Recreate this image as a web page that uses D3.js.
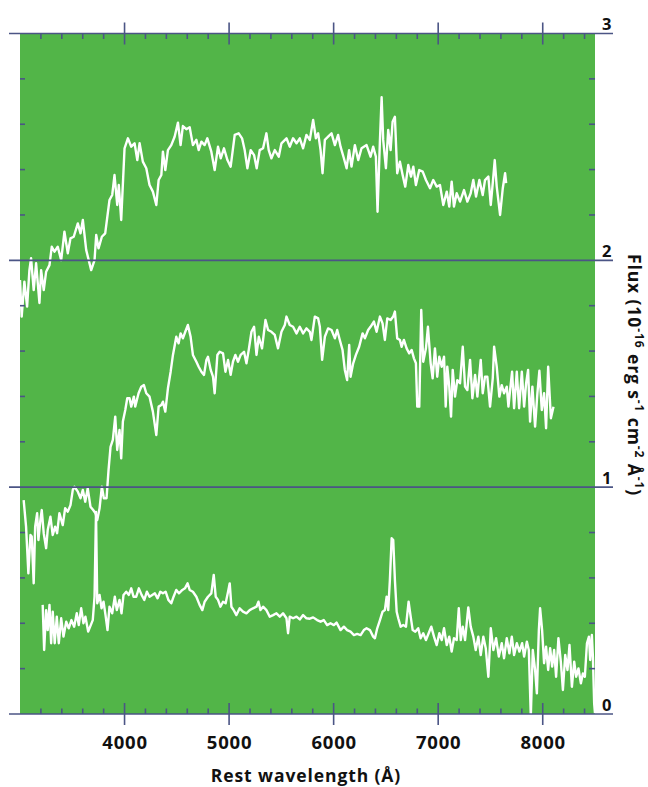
<!DOCTYPE html>
<meta charset="utf-8">
<style>
  body { margin: 0; background: #fff; }
  svg { font-family: 'Open Sans', sans-serif; }
  .lbl { font-weight: 700; fill: #111; }
</style>
<script src="https://d3js.org/d3.v7.min.js"></script>
<body>
<svg id="chart" width="648" height="787"></svg>
<script>
// wavelength tick labels (Angstrom) and flux levels
var waveTicks = [4000, 5000, 6000, 7000, 8000];
var fluxLevels = [0, 1, 2, 3];

// spectra: [rest wavelength (A), flux (1e-16 erg/s/cm2/A)]
var topSpec = [
  [3000,1.913],[3016,1.752],[3042,1.906],[3068,1.796],[3090,1.957],[3106,2.009],[3131,1.869],[3154,1.987],
  [3186,1.812],[3202,1.957],[3227,1.869],[3250,1.950],[3282,1.979],[3304,2.060],[3330,2.038],[3361,2.060],
  [3394,2.001],[3425,2.126],[3457,2.031],[3483,2.097],[3514,2.104],[3553,2.163],[3579,2.119],[3601,2.178],
  [3633,2.046],[3681,1.957],[3713,2.001],[3729,2.112],[3751,2.053],[3783,2.104],[3815,2.119],[3856,2.266],
  [3882,2.288],[3904,2.376],[3930,2.244],[3945,2.332],[3968,2.178],[4000,2.494],[4032,2.538],[4064,2.501],
  [4096,2.516],[4122,2.442],[4144,2.516],[4175,2.435],[4208,2.406],[4239,2.332],[4271,2.303],[4304,2.244],
  [4326,2.354],[4352,2.376],[4367,2.479],[4390,2.398],[4415,2.486],[4447,2.508],[4479,2.545],[4511,2.607],
  [4536,2.508],[4558,2.592],[4591,2.578],[4623,2.587],[4654,2.508],[4687,2.531],[4709,2.486],[4735,2.523],
  [4766,2.508],[4792,2.538],[4830,2.479],[4862,2.398],[4894,2.501],[4920,2.450],[4951,2.494],[4984,2.442],
  [5015,2.413],[5054,2.553],[5092,2.560],[5124,2.538],[5149,2.486],[5175,2.406],[5207,2.486],[5239,2.464],
  [5264,2.406],[5293,2.486],[5325,2.494],[5357,2.560],[5379,2.486],[5405,2.450],[5437,2.486],[5475,2.457],
  [5501,2.516],[5549,2.538],[5580,2.501],[5612,2.538],[5645,2.516],[5676,2.538],[5708,2.494],[5740,2.553],
  [5772,2.531],[5804,2.619],[5830,2.538],[5852,2.560],[5875,2.486],[5894,2.384],[5916,2.531],[5947,2.545],
  [5980,2.560],[6012,2.508],[6043,2.553],[6066,2.501],[6098,2.450],[6124,2.406],[6148,2.486],[6171,2.413],
  [6203,2.508],[6235,2.442],[6267,2.494],[6315,2.508],[6353,2.457],[6378,2.501],[6404,2.457],[6420,2.214],
  [6443,2.531],[6459,2.719],[6474,2.531],[6500,2.406],[6522,2.575],[6545,2.486],[6564,2.611],[6586,2.633],
  [6608,2.384],[6634,2.435],[6660,2.376],[6685,2.325],[6714,2.420],[6740,2.369],[6762,2.413],[6787,2.332],
  [6819,2.398],[6852,2.391],[6883,2.354],[6922,2.318],[6953,2.354],[6986,2.325],[7017,2.332],[7049,2.244],
  [7082,2.303],[7106,2.237],[7129,2.347],[7151,2.237],[7177,2.296],[7209,2.259],[7247,2.310],[7279,2.259],
  [7311,2.296],[7336,2.354],[7362,2.281],[7394,2.354],[7426,2.288],[7448,2.354],[7480,2.369],[7503,2.244],
  [7522,2.340],[7541,2.442],[7560,2.325],[7592,2.200],[7618,2.318],[7640,2.384],[7650,2.340]
];

var midSpec = [
  [3035,0.943],[3058,0.826],[3080,0.620],[3100,0.789],[3112,0.782],[3131,0.576],[3145,0.826],[3164,0.885],
  [3176,0.767],[3195,0.855],[3208,0.899],[3227,0.797],[3250,0.731],[3265,0.811],[3291,0.870],[3313,0.789],
  [3336,0.826],[3355,0.797],[3377,0.885],[3409,0.833],[3432,0.907],[3457,0.892],[3483,0.921],[3505,0.988],
  [3521,1.002],[3553,0.980],[3579,0.951],[3601,0.988],[3624,0.936],[3648,0.995],[3674,0.914],[3700,0.899],
  [3722,0.885],[3739,0.855],[3761,0.907],[3783,1.002],[3802,0.951],[3828,0.951],[3847,1.076],[3866,1.178],
  [3888,1.208],[3911,1.311],[3930,1.164],[3952,1.252],[3968,1.127],[3984,1.289],[4007,1.340],[4026,1.392],
  [4048,1.392],[4064,1.355],[4089,1.399],[4102,1.355],[4134,1.414],[4160,1.443],[4185,1.450],[4208,1.414],
  [4239,1.399],[4271,1.333],[4304,1.230],[4326,1.355],[4352,1.362],[4367,1.377],[4390,1.333],[4415,1.436],
  [4441,1.509],[4463,1.583],[4495,1.663],[4517,1.634],[4536,1.678],[4558,1.656],[4581,1.685],[4606,1.715],
  [4632,1.663],[4654,1.583],[4687,1.553],[4709,1.531],[4735,1.509],[4760,1.495],[4783,1.561],[4798,1.575],
  [4824,1.517],[4846,1.487],[4862,1.414],[4888,1.583],[4910,1.597],[4942,1.590],[4965,1.509],[4990,1.561],
  [5015,1.495],[5037,1.553],[5060,1.583],[5085,1.553],[5111,1.583],[5143,1.597],[5166,1.546],[5188,1.605],
  [5214,1.685],[5239,1.707],[5262,1.583],[5284,1.663],[5315,1.612],[5348,1.737],[5373,1.693],[5405,1.685],
  [5437,1.671],[5468,1.612],[5501,1.685],[5533,1.715],[5549,1.752],[5580,1.715],[5612,1.707],[5645,1.678],
  [5676,1.707],[5708,1.678],[5740,1.700],[5772,1.685],[5788,1.649],[5820,1.752],[5852,1.744],[5868,1.707],
  [5890,1.561],[5916,1.663],[5947,1.700],[5980,1.693],[6012,1.656],[6034,1.693],[6059,1.649],[6085,1.605],
  [6107,1.517],[6129,1.472],[6149,1.627],[6162,1.487],[6187,1.546],[6213,1.583],[6244,1.619],[6277,1.678],
  [6299,1.656],[6330,1.693],[6353,1.707],[6385,1.730],[6411,1.685],[6443,1.752],[6468,1.722],[6490,1.649],
  [6513,1.744],[6545,1.737],[6570,1.752],[6586,1.774],[6608,1.656],[6634,1.649],[6650,1.619],[6672,1.649],
  [6698,1.612],[6723,1.590],[6746,1.605],[6768,1.568],[6787,1.546],[6800,1.355],[6819,1.355],[6838,1.781],
  [6857,1.553],[6883,1.612],[6902,1.707],[6928,1.546],[6947,1.480],[6969,1.612],[6991,1.487],[7011,1.575],
  [7034,1.531],[7056,1.575],[7072,1.355],[7087,1.531],[7106,1.443],[7123,1.311],[7139,1.517],[7161,1.399],
  [7183,1.472],[7209,1.458],[7235,1.619],[7257,1.443],[7279,1.428],[7305,1.561],[7327,1.392],[7353,1.495],
  [7375,1.399],[7407,1.561],[7426,1.414],[7448,1.487],[7470,1.487],[7496,1.355],[7522,1.480],[7535,1.619],
  [7560,1.531],[7585,1.399],[7608,1.450],[7630,1.414],[7656,1.443],[7672,1.355],[7688,1.428],[7707,1.509],
  [7726,1.348],[7752,1.509],[7774,1.348],[7800,1.509],[7822,1.355],[7841,1.458],[7860,1.517],[7879,1.289],
  [7901,1.443],[7927,1.267],[7949,1.414],[7968,1.513],[7991,1.340],[8013,1.414],[8032,1.260],[8052,1.531],
  [8078,1.304],[8103,1.355]
];

var lowSpec = [
  [3217,0.481],[3231,0.282],[3250,0.458],[3265,0.370],[3282,0.481],[3298,0.312],[3313,0.451],[3332,0.312],
  [3352,0.429],[3371,0.312],[3394,0.422],[3416,0.341],[3442,0.407],[3466,0.378],[3492,0.414],[3518,0.385],
  [3543,0.444],[3562,0.392],[3585,0.466],[3607,0.400],[3626,0.429],[3652,0.363],[3677,0.392],[3696,0.414],
  [3713,0.517],[3727,0.891],[3739,0.488],[3761,0.525],[3780,0.466],[3799,0.495],[3818,0.436],[3837,0.370],
  [3856,0.473],[3882,0.444],[3907,0.517],[3926,0.458],[3952,0.503],[3971,0.444],[3990,0.525],[4016,0.539],
  [4041,0.525],[4064,0.554],[4086,0.517],[4112,0.517],[4137,0.554],[4163,0.525],[4189,0.503],[4214,0.539],
  [4239,0.517],[4265,0.525],[4290,0.532],[4316,0.510],[4342,0.539],[4367,0.532],[4393,0.539],[4419,0.503],
  [4447,0.488],[4469,0.517],[4495,0.547],[4520,0.532],[4553,0.547],[4578,0.554],[4603,0.576],[4623,0.547],
  [4654,0.539],[4687,0.517],[4718,0.481],[4744,0.458],[4766,0.495],[4798,0.517],[4830,0.532],[4853,0.613],
  [4872,0.517],[4894,0.503],[4917,0.473],[4942,0.495],[4967,0.488],[4990,0.539],[5006,0.576],[5022,0.473],
  [5044,0.458],[5070,0.436],[5101,0.466],[5133,0.451],[5166,0.444],[5197,0.458],[5229,0.466],[5262,0.473],
  [5281,0.495],[5300,0.458],[5325,0.473],[5357,0.458],[5389,0.429],[5421,0.436],[5453,0.444],[5485,0.429],
  [5516,0.444],[5549,0.422],[5564,0.356],[5580,0.429],[5612,0.422],[5645,0.429],[5676,0.417],[5708,0.436],
  [5740,0.422],[5772,0.420],[5804,0.426],[5842,0.414],[5875,0.407],[5906,0.414],[5938,0.392],[5970,0.400],
  [6002,0.392],[6028,0.403],[6066,0.370],[6098,0.385],[6129,0.370],[6162,0.363],[6194,0.348],[6225,0.353],
  [6258,0.348],[6289,0.370],[6315,0.378],[6347,0.370],[6378,0.341],[6395,0.334],[6417,0.378],[6443,0.414],
  [6468,0.451],[6490,0.458],[6507,0.517],[6522,0.458],[6538,0.591],[6555,0.775],[6570,0.767],[6586,0.591],
  [6603,0.451],[6618,0.422],[6641,0.385],[6666,0.392],[6692,0.385],[6717,0.495],[6737,0.429],[6756,0.370],
  [6781,0.363],[6809,0.378],[6832,0.334],[6857,0.356],[6883,0.326],[6909,0.356],[6934,0.385],[6960,0.341],
  [6986,0.304],[7011,0.356],[7034,0.326],[7056,0.378],[7082,0.304],[7106,0.341],[7129,0.275],[7151,0.334],
  [7177,0.326],[7197,0.466],[7216,0.326],[7235,0.385],[7257,0.326],[7288,0.470],[7311,0.385],[7336,0.341],
  [7359,0.282],[7384,0.341],[7407,0.260],[7432,0.341],[7455,0.290],[7480,0.164],[7503,0.378],[7528,0.282],
  [7554,0.334],[7580,0.253],[7608,0.312],[7630,0.246],[7656,0.334],[7681,0.268],[7704,0.341],[7726,0.260],
  [7752,0.312],[7777,0.275],[7803,0.312],[7822,0.253],[7848,0.319],[7867,0.282],[7886,-0.01],[7905,0.282],
  [7927,0.194],[7944,0.091],[7963,0.370],[7975,0.466],[7994,0.370],[8013,0.224],[8032,0.297],[8052,0.194],
  [8071,0.290],[8090,0.209],[8109,0.282],[8128,0.164],[8150,0.334],[8173,0.231],[8193,0.106],[8215,0.260],
  [8237,0.194],[8256,0.304],[8279,0.120],[8301,0.231],[8320,0.164],[8342,0.201],[8365,0.135],[8384,0.179],
  [8403,0.164],[8423,0.312],[8442,0.341],[8454,0.238],[8470,0.348],[8480,0.253],[8492,0.047],[8500,0.003]
];

var svg = d3.select('#chart');
var axisColor = '#4b5585';

var x = d3.scaleLinear().domain([3000, 8500]).range([20, 595]);
var y = d3.scaleLinear().domain([0, 3]).range([714, 33.5]);

// green plot area
svg.append('rect')
  .attr('x', x(3000)).attr('y', y(3))
  .attr('width', x(8500) - x(3000)).attr('height', y(0) - y(3))
  .attr('fill', '#52b548');

svg.append('clipPath').attr('id', 'clip')
  .append('rect')
  .attr('x', x(3000)).attr('y', y(3))
  .attr('width', x(8500) - x(3000)).attr('height', y(0) - y(3) + 1);

var line = d3.line()
  .x(function(d) { return x(d[0]); })
  .y(function(d) { return y(d[1]); });

svg.append('g').attr('clip-path', 'url(#clip)')
  .selectAll('path')
  .data([topSpec, midSpec, lowSpec])
  .enter().append('path')
    .attr('d', line)
    .attr('fill', 'none')
    .attr('stroke', '#fff')
    .attr('stroke-width', 2.4)
    .attr('stroke-linejoin', 'round');

// flux level lines across the plot
svg.append('g').selectAll('line')
  .data(fluxLevels)
  .enter().append('line')
    .attr('x1', 9).attr('x2', 613)
    .attr('y1', function(d) { return y(d); })
    .attr('y2', function(d) { return y(d); })
    .attr('stroke', axisColor).attr('stroke-width', 1.6);

// minor flux ticks on left and right edges
var minorFlux = d3.range(0.2, 3, 0.2).filter(function(v) { return Math.abs(v - Math.round(v)) > 0.05; });
var ft = svg.append('g').attr('stroke', axisColor).attr('stroke-width', 1.6);
ft.selectAll('.l').data(minorFlux).enter().append('line')
  .attr('x1', x(3000)).attr('x2', x(3000) + 5)
  .attr('y1', function(d) { return y(d); }).attr('y2', function(d) { return y(d); });
ft.selectAll('.r').data(minorFlux).enter().append('line')
  .attr('x1', x(8500) - 6).attr('x2', x(8500))
  .attr('y1', function(d) { return y(d); }).attr('y2', function(d) { return y(d); });

// wavelength ticks, top and bottom
var minorWave = d3.range(3200, 8500, 200).filter(function(v) { return v % 1000 !== 0; });
var wt = svg.append('g').attr('stroke', axisColor).attr('stroke-width', 1.6);
[y(0), y(3)].forEach(function(yy, i) {
  var dir = i === 0 ? -1 : 1;
  wt.append('g').selectAll('line').data(minorWave).enter().append('line')
    .attr('x1', function(d) { return x(d); }).attr('x2', function(d) { return x(d); })
    .attr('y1', yy).attr('y2', yy + dir * 5.5);
  wt.append('g').selectAll('line').data(waveTicks).enter().append('line')
    .attr('x1', function(d) { return x(d); }).attr('x2', function(d) { return x(d); })
    .attr('y1', yy - 11).attr('y2', yy + 11);
});

// tick labels
svg.append('g').selectAll('text')
  .data(waveTicks)
  .enter().append('text')
    .attr('class', 'lbl')
    .attr('x', function(d) { return x(d) + 0.5; })
    .attr('y', 749)
    .attr('text-anchor', 'middle')
    .style('font-size', '18.5px')
    .style('letter-spacing', '0.8px')
    .text(function(d) { return d; });

svg.append('g').selectAll('text')
  .data(fluxLevels)
  .enter().append('text')
    .attr('class', 'lbl')
    .attr('x', 602)
    .attr('y', function(d) { return y(d) - 3.5; })
    .style('font-size', '16.5px')
    .text(function(d) { return d; });

// axis titles
svg.append('text')
  .attr('class', 'lbl')
  .attr('x', 306).attr('y', 782)
  .attr('text-anchor', 'middle')
  .style('font-size', '17.5px')
  .style('letter-spacing', '0.9px')
  .text('Rest wavelength (Å)');

var yt = svg.append('text')
  .attr('class', 'lbl')
  .attr('transform', 'translate(628,375) rotate(90)')
  .attr('text-anchor', 'middle')
  .style('font-size', '17.5px')
  .style('letter-spacing', '0.9px');
var parts = [['Flux (10', ''], ['-16', 'sup'], [' erg s', ''], ['-1', 'sup'], [' cm', ''], ['-2', 'sup'], [' Å', ''], ['-1', 'sup'], [')', '']];
var raised = false;
parts.forEach(function(p) {
  var t = yt.append('tspan').text(p[0]);
  if (p[1] === 'sup') { t.attr('dy', -6.5).style('font-size', '12px'); raised = true; }
  else if (raised) { t.attr('dy', 6.5); raised = false; }
});
</script>
</body>
